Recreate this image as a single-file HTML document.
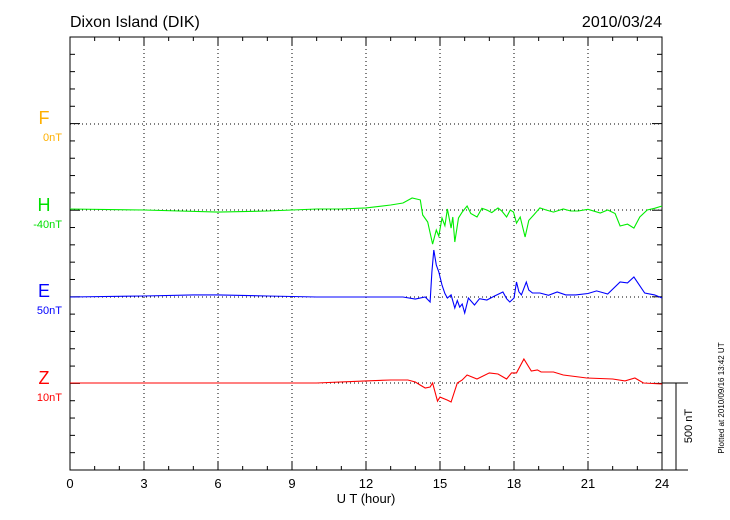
<!DOCTYPE html>
<html><head><meta charset="utf-8"><style>
body{margin:0;background:#fff;}
svg{display:block;font-family:"Liberation Sans",sans-serif;}
</style></head><body>
<svg id="c" width="730" height="520">
<text x="70" y="27" font-size="16">Dixon Island (DIK)</text>
<text x="662" y="27" font-size="16" text-anchor="end">2010/03/24</text>
<g id="grid"></g>
<rect x="70" y="37" width="592" height="433" fill="none" stroke="#000" stroke-width="1"/>
<g id="ticks"></g>
<g id="series"></g>
<g>
<text x="44" y="124" font-size="18" fill="#ffb000" text-anchor="middle">F</text>
<text x="62" y="141" font-size="11" fill="#ffb000" text-anchor="end">0nT</text>
<text x="44" y="211" font-size="18" fill="#00e000" text-anchor="middle">H</text>
<text x="62" y="228" font-size="11" fill="#00e000" text-anchor="end">-40nT</text>
<text x="44" y="297" font-size="18" fill="#0000ff" text-anchor="middle">E</text>
<text x="62" y="314" font-size="11" fill="#0000ff" text-anchor="end">50nT</text>
<text x="44" y="384" font-size="18" fill="#ff0000" text-anchor="middle">Z</text>
<text x="62" y="401" font-size="11" fill="#ff0000" text-anchor="end">10nT</text>
</g>
<text x="366" y="503" font-size="13" text-anchor="middle">U T (hour)</text>
<g>
<line x1="662" y1="383" x2="688" y2="383" stroke="#000"/>
<line x1="662" y1="470" x2="688" y2="470" stroke="#000"/>
<line x1="676" y1="383" x2="676" y2="470" stroke="#000"/>
<text transform="translate(692,426) rotate(-90)" font-size="11" text-anchor="middle">500 nT</text>
</g>
<text transform="translate(724,398) rotate(-90)" font-size="8" text-anchor="middle">Plotted at 2010/09/16 13:42 UT</text>
</svg>
<script>
const xTickLabels=["0","3","6","9","12","15","18","21","24"];
const hT=[0,3,6,8,9,10,11,12,13,13.5,13.87,14.2,14.3,14.5,14.7,14.85,14.95,15.08,15.2,15.3,15.45,15.52,15.6,15.75,15.9,16.1,16.25,16.5,16.7,16.9,17.1,17.35,17.5,17.7,17.85,17.98,18.1,18.25,18.45,18.6,18.8,19.05,19.3,19.6,20,20.3,20.6,21,21.5,21.8,22.1,22.3,22.6,22.86,23.1,23.4,23.7,24];
const hV=[6,0,-12,-6,0,6,6,12,29,40,69,58,-29,-69,-196,-115,-150,-46,-90,6,-104,-40,-184,-46,-12,23,-20,-40,10,0,-15,12,-5,-40,0,-12,-75,-40,-155,-60,-29,12,0,-12,6,-6,-6,4,-17,0,-20,-92,-81,-104,-40,0,10,23];
const eT=[0,3,5,6,8,10,12,13.5,14,14.4,14.6,14.67,14.75,14.85,14.95,15.08,15.2,15.3,15.45,15.6,15.7,15.8,15.9,16,16.15,16.4,16.6,16.9,17.2,17.55,17.7,17.83,18,18.1,18.2,18.3,18.5,18.6,18.75,19.05,19.4,19.75,20.1,20.5,21,21.35,21.8,22.3,22.6,22.86,23.3,23.7,24];
const eV=[0,6,12,12,6,0,0,0,-12,0,-29,144,270,184,144,69,20,-6,12,-63,-20,-58,-40,-92,-6,-46,-10,-17,5,29,-10,-29,-6,86,30,12,86,40,23,23,10,29,12,12,20,35,17,86,81,115,23,12,-6];
const zT=[0,5,10,12,13,13.7,14,14.2,14.4,14.6,14.7,14.9,15,15.3,15.45,15.7,15.9,16.1,16.5,17,17.35,17.7,17.9,18.1,18.4,18.7,18.95,19.1,19.6,20,20.95,22,22.5,22.9,23.25,24];
const zV=[0,0,0,12,17,17,6,-12,-29,-23,0,-104,-81,-98,-109,0,17,46,23,58,52,23,58,58,138,69,75,63,63,46,29,23,12,29,0,-6];
const NS='http://www.w3.org/2000/svg';
const X=t=>70+t*592/24;
const PXPERNT=87/500;
const Y=(base,v)=>base-v*PXPERNT;
function mk(tag,attrs,parent){const e=document.createElementNS(NS,tag);for(const k in attrs)e.setAttribute(k,attrs[k]);parent.appendChild(e);return e;}
const grid=document.getElementById('grid'),ticks=document.getElementById('ticks'),ser=document.getElementById('series'),svg=document.getElementById('c');
for(let i=1;i<8;i++){const l=mk('line',{x1:X(i*3),x2:X(i*3),y1:37,y2:470,stroke:'#000','stroke-dasharray':'1,3'},grid);

}
[124,210,297,383].forEach(y=>{const l=mk('line',{x1:70,x2:662,y1:y,y2:y,stroke:'#000','stroke-dasharray':'1,3'},grid);

});
for(let h=0;h<=24;h++){const len=h%3==0?8:4;const x=X(h);
mk('line',{x1:x,x2:x,y1:470,y2:470-len,stroke:'#000'},ticks);
mk('line',{x1:x,x2:x,y1:37,y2:37+len,stroke:'#000'},ticks);}
for(let k=0;k<=25;k++){const y=37+k*433/25;const g=(k%5==0);const len=g?10:5;
mk('line',{x1:70,x2:70+len,y1:y,y2:y,stroke:'#000'},ticks);
mk('line',{x1:662,x2:662-len,y1:y,y2:y,stroke:'#000'},ticks);}
xTickLabels.forEach((s,i)=>{const t=mk('text',{x:X(i*3),y:488,'font-size':13,'text-anchor':'middle'},svg);t.textContent=s;

});
function line(T,V,base,color,name){const d=T.map((t,i)=>(i?'L':'M')+X(t).toFixed(1)+','+Y(base,V[i]).toFixed(1)).join('');
const p=mk('path',{d:d,fill:'none',stroke:color,'stroke-width':1.1},ser);

}
line(hT,hV,210,'#00ee00','series-h');
line(eT,eV,297,'#0000ff','series-e');
line(zT,zV,383,'#ff0000','series-z');
</script>
</body></html>
